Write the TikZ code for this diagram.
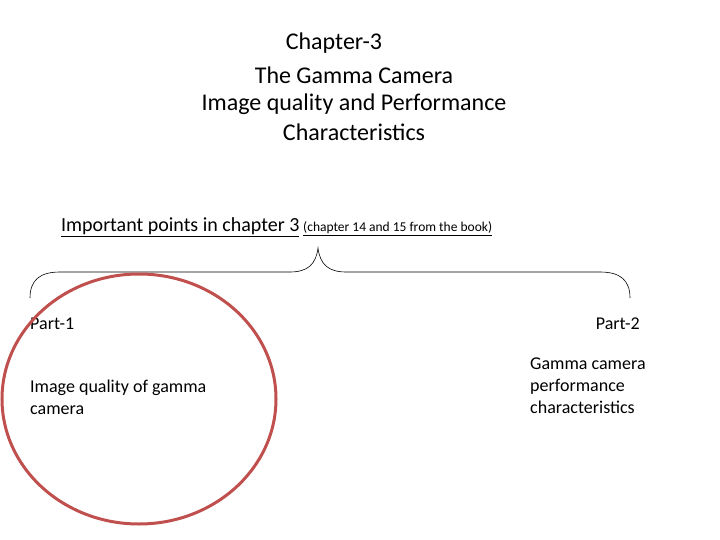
\documentclass[tikz,border=0pt]{standalone}
\usepackage{fontspec}
\setmainfont{Carlito}
\definecolor{ellred}{RGB}{192,80,77}
\begin{document}
\begin{tikzpicture}[x=1pt,y=-1pt,
  title/.style={font=\fontsize{24}{28}\selectfont,inner sep=0pt},
  body/.style={font=\fontsize{18}{22}\selectfont,inner sep=0pt,align=left}]
\useasboundingbox (0,0) rectangle (720,540);
\node[title] (t1) at (334,43) {Chapter-3};
\node[title] (t2) at (354,75) {The Gamma Camera};
\node[title] (t3) at (354,104) {Image quality and Performance};
\node[title] (t4) at (354,132) {Characteristics};
\node[font=\fontsize{20}{24}\selectfont,inner sep=0pt,anchor=base west] (imp) at (61,232) {\underline{Important points in chapter 3}};
\node[font=\fontsize{13.5}{16}\selectfont,inner sep=0pt,anchor=base west] (bk) at (303,232) {\underline{(chapter 14 and 15 from the book)}};
\coordinate (bl) at (30,298);
\coordinate (tip) at (318,248);
\coordinate (br) at (630,298);
\draw[line width=0.6pt] (bl) .. controls (30,280) and (40,272) .. (60,272)
  -- (290,272) .. controls (308,272) and (316,264) .. (tip)
  .. controls (320,264) and (328,272) .. (346,272)
  -- (600,272) .. controls (620,272) and (630,280) .. (br);
\node[body,anchor=base west] (p1) at (30,329) {Part-1};
\node[body,anchor=base east] (p2) at (640,329) {Part-2};
\node[body,anchor=north west] (q1) at (30,380) {Image quality of gamma\\camera};
\node[body,anchor=north west] (q2) at (530,358) {Gamma camera\\performance\\characteristics};
\draw[ellred,line width=3pt] (139,399) ellipse [x radius=137, y radius=125];
\end{tikzpicture}
\end{document}
